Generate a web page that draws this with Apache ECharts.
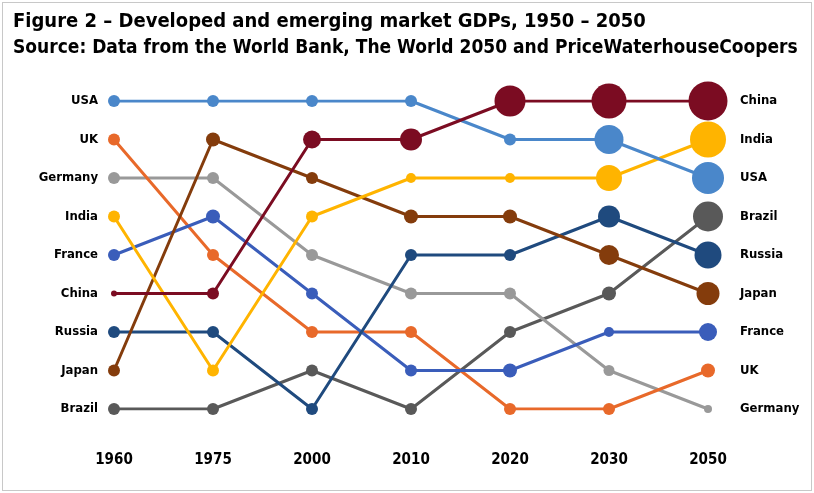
<!DOCTYPE html>
<html>
<head>
<meta charset="utf-8">
<script src="https://cdn.jsdelivr.net/npm/echarts@6/dist/echarts.min.js"></script>
<style>
  html, body { margin: 0; padding: 0; background: #fff; }
  #frame { position: absolute; left: 2px; top: 2px; width: 808px; height: 487px; border: 1px solid #c8c8c8; }
  #chart { position: absolute; left: 0; top: 0; width: 814px; height: 493px; }
</style>
</head>
<body>
<div id="frame"></div>
<div id="chart"></div>
<script>
// years on the x axis
const years = ['1960', '1975', '2000', '2010', '2020', '2030', '2050']
// labels at the left (1960 ranking) and right (2050 ranking)
const leftOrder = ['USA', 'UK', 'Germany', 'India', 'France', 'China', 'Russia', 'Japan', 'Brazil']
const rightOrder = ['China', 'India', 'USA', 'Brazil', 'Russia', 'Japan', 'France', 'UK', 'Germany']

// GDP rank per year
const usaRank = [1, 1, 1, 1, 2, 2, 3]
const ukRank = [2, 5, 7, 7, 9, 9, 8]
const germanyRank = [3, 3, 5, 6, 6, 8, 9]
const indiaRank = [4, 8, 4, 3, 3, 3, 2]
const franceRank = [5, 4, 6, 8, 8, 7, 7]
const chinaRank = [6, 6, 2, 2, 1, 1, 1]
const russiaRank = [7, 7, 9, 5, 5, 4, 5]
const japanRank = [8, 2, 3, 4, 4, 5, 6]
const brazilRank = [9, 9, 8, 9, 7, 6, 4]

// relative size of the economy (marker diameter)
const usaSize = [12, 12, 12, 12, 12, 29, 32]
const ukSize = [12, 12, 12, 12, 12, 12, 14]
const germanySize = [12, 12, 12, 12, 12, 11, 8]
const indiaSize = [12, 12, 12, 10, 10, 26, 36]
const franceSize = [12, 14, 12, 12, 14, 10, 18]
const chinaSize = [6, 12, 18, 22, 31, 35, 39]
const russiaSize = [12, 12, 12, 12, 12, 22, 27]
const japanSize = [12, 14, 12, 14, 14, 20, 23]
const brazilSize = [12, 12, 12, 12, 12, 14, 30]

const font = '"DejaVu Sans Condensed", "Liberation Sans", sans-serif'

function makeSeries(name, color, ranks, sizes, z) {
  return {
    name: name,
    type: 'line',
    symbol: 'circle',
    z: z,
    lineStyle: { color: color, width: 3 },
    itemStyle: { color: color },
    data: ranks.map((r, i) => ({ value: r, symbolSize: sizes[i] }))
  }
}

const chart = echarts.init(document.getElementById('chart'))
chart.setOption({
  animation: false,
  title: {
    text: 'Figure 2 \u2013 Developed and emerging market GDPs, 1950 \u2013 2050',
    subtext: 'Source: Data from the World Bank, The World 2050 and PriceWaterhouseCoopers',
    left: 8,
    top: 7,
    itemGap: 7,
    textStyle: { color: '#000', fontSize: 20, fontWeight: 'bold', fontFamily: font },
    subtextStyle: { color: '#000', fontSize: 19, fontWeight: 'bold', fontFamily: font }
  },
  grid: { left: 114, right: 106, top: 101, bottom: 84 },
  xAxis: {
    type: 'category',
    data: years,
    boundaryGap: false,
    axisLine: { show: false },
    axisTick: { show: false },
    axisLabel: { margin: 44, color: '#000', fontSize: 15, fontWeight: 'bold', fontFamily: font }
  },
  yAxis: [{
    type: 'value',
    inverse: true,
    min: 1,
    max: 9,
    interval: 1,
    splitLine: { show: false },
    axisLine: { show: false },
    axisTick: { show: false },
    axisLabel: {
      margin: 16, color: '#000', fontSize: 13, fontWeight: 'bold', fontFamily: font,
      formatter: v => leftOrder[v - 1]
    }
  }, {
    type: 'value',
    inverse: true,
    position: 'right',
    min: 1,
    max: 9,
    interval: 1,
    splitLine: { show: false },
    axisLine: { show: false },
    axisTick: { show: false },
    axisLabel: {
      margin: 32, color: '#000', fontSize: 13, fontWeight: 'bold', fontFamily: font,
      formatter: v => rightOrder[v - 1]
    }
  }],
  series: [
    makeSeries('Brazil', '#595959', brazilRank, brazilSize, 2),
    makeSeries('Germany', '#999999', germanyRank, germanySize, 2),
    makeSeries('UK', '#E8692A', ukRank, ukSize, 2),
    makeSeries('France', '#3A5DBA', franceRank, franceSize, 2),
    makeSeries('Russia', '#1F4A7E', russiaRank, russiaSize, 3),
    makeSeries('Japan', '#843C0C', japanRank, japanSize, 3),
    makeSeries('India', '#FFB400', indiaRank, indiaSize, 3),
    makeSeries('USA', '#4A87CA', usaRank, usaSize, 3),
    makeSeries('China', '#7B0C22', chinaRank, chinaSize, 4)
  ]
})
</script>
</body>
</html>
